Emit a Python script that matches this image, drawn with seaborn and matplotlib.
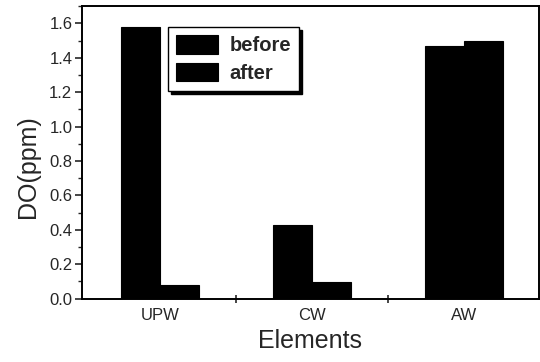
import matplotlib
matplotlib.use("Agg")
import matplotlib.pyplot as plt
import seaborn as sns
import pandas as pd
from matplotlib.ticker import MultipleLocator, FixedLocator

categories = ["UPW", "CW", "AW"]
before = [1.58, 0.43, 1.47]
after = [0.08, 0.095, 1.50]
series_names = ["before", "after"]

rows = []
for c, b, a in zip(categories, before, after):
    rows.append({"Elements": c, "state": series_names[0], "DO": b})
    rows.append({"Elements": c, "state": series_names[1], "DO": a})
df = pd.DataFrame(rows)

sns.set_style("white")
plt.rcParams["font.family"] = ["Liberation Sans", "DejaVu Sans"]

fig = plt.figure(figsize=(5.4, 3.62), dpi=100)
ax = fig.add_axes([0.152, 0.175, 0.846, 0.808])

sns.barplot(data=df, x="Elements", y="DO", hue="state", order=categories,
            hue_order=series_names, palette=["black", "black"], width=0.51,
            edgecolor="black", linewidth=0.8, saturation=1, ax=ax)

ax.set_xlim(-0.51, 2.49)
ax.set_ylim(0, 1.70)
ax.set_xlabel("Elements", fontsize=18, labelpad=4)
ax.set_ylabel("DO(ppm)", fontsize=18, labelpad=7)
ax.yaxis.label.set_y(0.45)

for s in ax.spines.values():
    s.set_visible(True)
    s.set_color("black")
    s.set_linewidth(1.4)

ax.yaxis.set_major_locator(MultipleLocator(0.2))
ax.yaxis.set_minor_locator(MultipleLocator(0.1))
ax.yaxis.set_major_formatter(matplotlib.ticker.FormatStrFormatter("%.1f"))
ax.tick_params(axis="y", which="major", direction="out", length=5, width=1.2,
               labelsize=12, pad=2, left=True)
ax.tick_params(axis="y", which="minor", direction="out", length=3, width=1.0, left=True)
ax.xaxis.set_minor_locator(FixedLocator([0.5, 1.5]))
ax.tick_params(axis="x", which="major", length=0, labelsize=12, pad=7)
ax.tick_params(axis="x", which="minor", direction="inout", length=6, width=1.2, bottom=True)

leg = ax.legend(loc="upper left", bbox_to_anchor=(0.188, 0.928), frameon=True,
                fancybox=False, shadow={"color": "black", "alpha": 1},
                prop={"weight": "bold", "size": 14.5}, handlelength=2.1,
                handleheight=1.05, labelspacing=0.35, handletextpad=0.55,
                borderpad=0.4, borderaxespad=0)
leg.get_frame().set_edgecolor("black")
leg.get_frame().set_linewidth(1.0)
leg.get_frame().set_alpha(1)

fig.savefig("out.png", dpi=100)
